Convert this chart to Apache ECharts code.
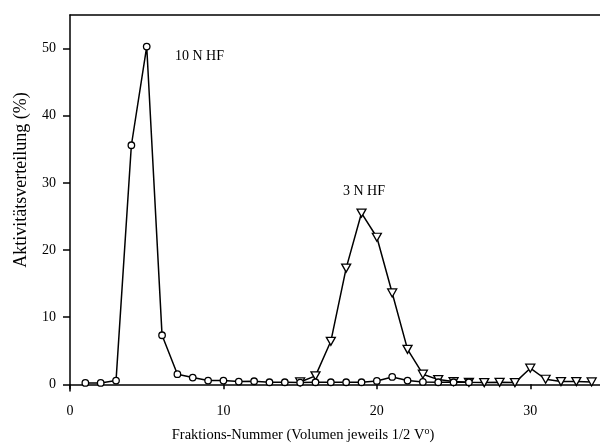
<!DOCTYPE html>
<html>
  <head>
    <meta charset="UTF-8" />
    <title>Aktivitätsverteilung</title>
    <style>
      html, body { margin: 0; padding: 0; background: #fff; }
      #main { width: 600px; height: 445px; }
    </style>
  </head>
  <body>
    <div id="main"></div>
  </body>
  <script src="https://cdn.jsdelivr.net/npm/echarts@6/dist/echarts.min.js"></script>
  <script>
    // 10 N HF (Kreise), Fraktion 1..26
    var hf10X = [1, 2, 3, 4, 5, 6, 7, 8, 9, 10, 11, 12, 13, 14, 15, 16, 17, 18, 19, 20, 21, 22, 23, 24, 25, 26];
    var hf10Y = [0.2, 0.2, 0.55, 35.6, 50.3, 7.3, 1.5, 1.0, 0.55, 0.55, 0.4, 0.45, 0.3, 0.3, 0.25, 0.3, 0.3, 0.3, 0.3, 0.5, 1.1, 0.55, 0.35, 0.3, 0.3, 0.3];
    // 3 N HF (Dreiecke), Fraktion 15..34
    var hf3X = [15, 16, 17, 18, 19, 20, 21, 22, 23, 24, 25, 26, 27, 28, 29, 30, 31, 32, 33, 34];
    var hf3Y = [0.35, 1.25, 6.4, 17.3, 25.5, 21.9, 13.6, 5.2, 1.5, 0.7, 0.4, 0.3, 0.25, 0.3, 0.25, 2.4, 0.75, 0.4, 0.4, 0.35];
    var yTicks = [0, 10, 20, 30, 40, 50];

    function pairs(xs, ys) {
      var out = [];
      for (var i = 0; i < xs.length; i++) out.push([xs[i], ys[i]]);
      return out;
    }

    var font = "'Liberation Serif', 'DejaVu Serif', serif";
    var myChart = echarts.init(document.getElementById("main"));
    var option = {
      animation: false,
      backgroundColor: "#fff",
      grid: { left: 70, top: 15, width: 537, height: 376, outerBoundsMode: "none", containLabel: false },
      xAxis: [
        {
          type: "value",
          min: 0,
          max: 35,
          interval: 10,
          axisLine: { lineStyle: { color: "#000", width: 1.5 } },
          axisTick: { inside: false, length: 5, lineStyle: { color: "#000", width: 1.5 } },
          axisLabel: { color: "#000", fontFamily: font, fontSize: 14, margin: 13 },
          splitLine: { show: false },
        },
        {
          type: "value",
          position: "top",
          min: 0,
          max: 35,
          axisLine: { show: true, lineStyle: { color: "#000", width: 1.5 } },
          axisTick: { show: false },
          axisLabel: { show: false },
          splitLine: { show: false },
        },
      ],
      yAxis: {
        type: "value",
        min: -1,
        max: 55,
        axisLine: { show: true, lineStyle: { color: "#000", width: 1.5 } },
        axisTick: { show: true, length: 7, customValues: yTicks, lineStyle: { color: "#000", width: 1.5 } },
        axisLabel: { color: "#000", fontFamily: font, fontSize: 14, margin: 14, customValues: yTicks },
        splitLine: { show: false },
      },
      graphic: [
        {
          type: "text",
          left: 175,
          top: 49,
          style: { text: "10 N HF", font: "14px " + font, fill: "#000" },
        },
        {
          type: "text",
          left: 343,
          top: 184,
          style: { text: "3 N HF", font: "14px " + font, fill: "#000" },
        },
        {
          type: "text",
          x: 303,
          y: 435,
          style: {
            text: "Fraktions-Nummer (Volumen jeweils 1/2 V{s|o})",
            rich: { s: { fontSize: 10, fontFamily: font, padding: [0, 0, 7, 0] } },
            font: "14.5px " + font,
            fill: "#000",
            align: "center",
            verticalAlign: "middle",
          },
        },
        {
          type: "text",
          x: 21,
          y: 180,
          rotation: Math.PI / 2,
          style: {
            text: "Aktivitätsverteilung (%)",
            font: "18px " + font,
            fill: "#000",
            align: "center",
            verticalAlign: "middle",
          },
        },
      ],
      series: [
        {
          name: "10 N HF",
          type: "line",
          data: pairs(hf10X, hf10Y),
          symbol: "circle",
          symbolSize: 6.5,
          showAllSymbol: true,
          lineStyle: { color: "#000", width: 1.5 },
          itemStyle: { color: "#fff", borderColor: "#000", borderWidth: 1.3 },
          z: 3,
        },
        {
          name: "3 N HF",
          type: "line",
          data: pairs(hf3X, hf3Y),
          symbol: "triangle",
          symbolRotate: 180,
          symbolSize: [9, 8],
          showAllSymbol: true,
          lineStyle: { color: "#000", width: 1.5 },
          itemStyle: { color: "#fff", borderColor: "#000", borderWidth: 1.3 },
          z: 2,
        },
      ],
    };
    myChart.setOption(option);
  </script>
</html>
